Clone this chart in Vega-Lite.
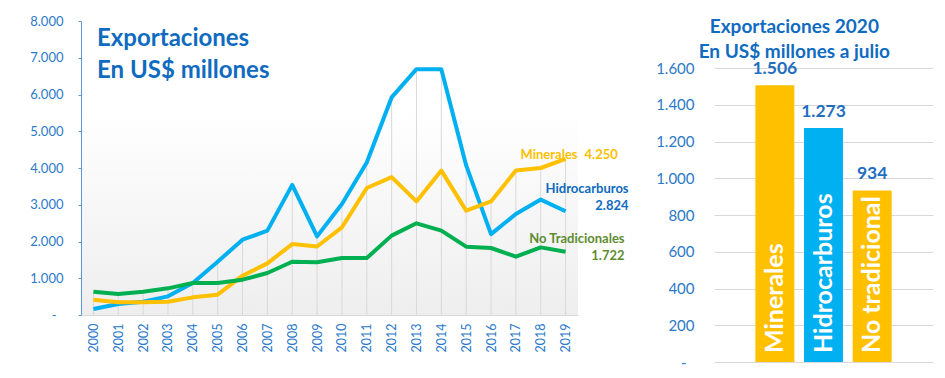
{
  "$schema": "https://vega.github.io/schema/vega-lite/v6.json",
  "padding": {"left": 29, "top": 15, "right": 5, "bottom": 5},
  "background": "white",
  "config": {
    "locale": {"number": {"decimal": ",", "thousands": ".", "grouping": [3], "currency": ["$", ""]}},
    "font": "Lato",
    "view": {"stroke": null}
  },
  "datasets": {
    "series": [
      {"year": 2000, "series": "Hidrocarburos", "value": 165},
      {"year": 2001, "series": "Hidrocarburos", "value": 300},
      {"year": 2002, "series": "Hidrocarburos", "value": 362},
      {"year": 2003, "series": "Hidrocarburos", "value": 508},
      {"year": 2004, "series": "Hidrocarburos", "value": 870},
      {"year": 2005, "series": "Hidrocarburos", "value": 1450},
      {"year": 2006, "series": "Hidrocarburos", "value": 2050},
      {"year": 2007, "series": "Hidrocarburos", "value": 2295},
      {"year": 2008, "series": "Hidrocarburos", "value": 3540},
      {"year": 2009, "series": "Hidrocarburos", "value": 2140},
      {"year": 2010, "series": "Hidrocarburos", "value": 3020},
      {"year": 2011, "series": "Hidrocarburos", "value": 4150},
      {"year": 2012, "series": "Hidrocarburos", "value": 5920},
      {"year": 2013, "series": "Hidrocarburos", "value": 6690},
      {"year": 2014, "series": "Hidrocarburos", "value": 6690},
      {"year": 2015, "series": "Hidrocarburos", "value": 4070},
      {"year": 2016, "series": "Hidrocarburos", "value": 2200},
      {"year": 2017, "series": "Hidrocarburos", "value": 2750},
      {"year": 2018, "series": "Hidrocarburos", "value": 3140},
      {"year": 2019, "series": "Hidrocarburos", "value": 2824},
      {"year": 2000, "series": "Minerales", "value": 417},
      {"year": 2001, "series": "Minerales", "value": 345},
      {"year": 2002, "series": "Minerales", "value": 345},
      {"year": 2003, "series": "Minerales", "value": 362},
      {"year": 2004, "series": "Minerales", "value": 480},
      {"year": 2005, "series": "Minerales", "value": 553},
      {"year": 2006, "series": "Minerales", "value": 1070},
      {"year": 2007, "series": "Minerales", "value": 1405},
      {"year": 2008, "series": "Minerales", "value": 1930},
      {"year": 2009, "series": "Minerales", "value": 1865},
      {"year": 2010, "series": "Minerales", "value": 2385},
      {"year": 2011, "series": "Minerales", "value": 3455},
      {"year": 2012, "series": "Minerales", "value": 3750},
      {"year": 2013, "series": "Minerales", "value": 3090},
      {"year": 2014, "series": "Minerales", "value": 3930},
      {"year": 2015, "series": "Minerales", "value": 2840},
      {"year": 2016, "series": "Minerales", "value": 3090},
      {"year": 2017, "series": "Minerales", "value": 3930},
      {"year": 2018, "series": "Minerales", "value": 4000},
      {"year": 2019, "series": "Minerales", "value": 4250},
      {"year": 2000, "series": "No Tradicionales", "value": 635},
      {"year": 2001, "series": "No Tradicionales", "value": 571},
      {"year": 2002, "series": "No Tradicionales", "value": 635},
      {"year": 2003, "series": "No Tradicionales", "value": 725},
      {"year": 2004, "series": "No Tradicionales", "value": 870},
      {"year": 2005, "series": "No Tradicionales", "value": 870},
      {"year": 2006, "series": "No Tradicionales", "value": 961},
      {"year": 2007, "series": "No Tradicionales", "value": 1143},
      {"year": 2008, "series": "No Tradicionales", "value": 1450},
      {"year": 2009, "series": "No Tradicionales", "value": 1434},
      {"year": 2010, "series": "No Tradicionales", "value": 1550},
      {"year": 2011, "series": "No Tradicionales", "value": 1550},
      {"year": 2012, "series": "No Tradicionales", "value": 2160},
      {"year": 2013, "series": "No Tradicionales", "value": 2495},
      {"year": 2014, "series": "No Tradicionales", "value": 2295},
      {"year": 2015, "series": "No Tradicionales", "value": 1860},
      {"year": 2016, "series": "No Tradicionales", "value": 1823},
      {"year": 2017, "series": "No Tradicionales", "value": 1587},
      {"year": 2018, "series": "No Tradicionales", "value": 1840},
      {"year": 2019, "series": "No Tradicionales", "value": 1722}
    ],
    "bars": [
      {"cat": "Minerales", "value": 1506},
      {"cat": "Hidrocarburos", "value": 1273},
      {"cat": "No tradicional", "value": 934}
    ]
  },
  "spacing": 26,
  "hconcat": [
    {
      "width": 497,
      "height": 294,
      "view": {
        "stroke": null,
        "fill": {"gradient": "linear", "x1": 0, "y1": 0, "x2": 0, "y2": 1,
          "stops": [{"offset": 0, "color": "#ffffff"}, {"offset": 0.3, "color": "#ffffff"}, {"offset": 1, "color": "#eeeeee"}]}
      },
      "title": {
        "text": ["Exportaciones", "En US$ millones"],
        "anchor": "start", "frame": "group", "orient": "top",
        "offset": -68, "dx": 16, "fontSize": 24, "fontWeight": "bold",
        "color": "#0F6BBF", "lineHeight": 32, "font": "Lato"
      },
      "data": {"name": "series"},
      "encoding": {
        "x": {
          "field": "year", "type": "ordinal",
          "scale": {"type": "point", "padding": 0.5},
          "axis": {
            "title": null, "labelAngle": -90, "labelFontSize": 12.5, "labelColor": "#2B79C9",
            "ticks": false, "domainColor": "#d9d9d9", "labelPadding": 8, "grid": false
          }
        },
        "y": {
          "field": "value", "type": "quantitative",
          "scale": {"domain": [0, 8000], "nice": false},
          "axis": {
            "title": null, "values": [0, 1000, 2000, 3000, 4000, 5000, 6000, 7000, 8000],
            "format": ",.0f", "labelExpr": "datum.value == 0 ? '-' : datum.label",
            "labelOverlap": false,
            "labelPadding": {"condition": {"test": "datum.value == 0", "value": 22}, "value": 15},
            "grid": false, "domainColor": "#5B9BD5", "tickColor": "#5B9BD5", "tickSize": 3,
            "labelColor": "#2B79C9", "labelFontSize": 13
          }
        }
      },
      "layer": [
        {
          "transform": [{"aggregate": [{"op": "max", "field": "value", "as": "top"}], "groupby": ["year"]}],
          "mark": {"type": "rule", "color": "#d9d9d9", "strokeWidth": 1},
          "encoding": {
            "y": {"field": "top", "type": "quantitative"},
            "y2": {"datum": 0}
          }
        },
        {
          "mark": {"type": "line", "strokeWidth": 4, "strokeJoin": "round"},
          "encoding": {
            "color": {
              "field": "series", "type": "nominal",
              "scale": {"domain": ["Minerales", "Hidrocarburos", "No Tradicionales"], "range": ["#FFC000", "#00B0F0", "#00B050"]},
              "legend": null
            }
          }
        },
        {
          "transform": [{"filter": "datum.year == 2019 && datum.series == 'Minerales'"}],
          "mark": {"type": "text", "align": "right", "baseline": "middle", "dx": 12, "dy": -4, "fontSize": 13, "fontWeight": "bold", "color": "#FFC000"},
          "encoding": {"text": {"field": "series"}}
        },
        {
          "transform": [{"filter": "datum.year == 2019 && datum.series == 'Minerales'"}],
          "mark": {"type": "text", "align": "left", "baseline": "middle", "dx": 19, "dy": -4, "fontSize": 13, "fontWeight": "bold", "color": "#FFC000"},
          "encoding": {"text": {"field": "value", "type": "quantitative", "format": ",.0f"}}
        },
        {
          "transform": [{"filter": "datum.year == 2019 && datum.series == 'Hidrocarburos'"}],
          "mark": {"type": "text", "align": "right", "baseline": "middle", "dx": 63, "dy": -22, "fontSize": 13, "fontWeight": "bold", "color": "#0F6BBF"},
          "encoding": {"text": {"field": "series"}}
        },
        {
          "transform": [{"filter": "datum.year == 2019 && datum.series == 'Hidrocarburos'"}],
          "mark": {"type": "text", "align": "right", "baseline": "middle", "dx": 63, "dy": -5, "fontSize": 13, "fontWeight": "bold", "color": "#0F6BBF"},
          "encoding": {"text": {"field": "value", "type": "quantitative", "format": ",.0f"}}
        },
        {
          "transform": [{"filter": "datum.year == 2019 && datum.series == 'No Tradicionales'"}],
          "mark": {"type": "text", "align": "right", "baseline": "middle", "dx": 59, "dy": -13, "fontSize": 13, "fontWeight": "bold", "color": "#5E8C31"},
          "encoding": {"text": {"field": "series"}}
        },
        {
          "transform": [{"filter": "datum.year == 2019 && datum.series == 'No Tradicionales'"}],
          "mark": {"type": "text", "align": "right", "baseline": "middle", "dx": 59, "dy": 4, "fontSize": 13, "fontWeight": "bold", "color": "#5E8C31"},
          "encoding": {"text": {"field": "value", "type": "quantitative", "format": ",.0f"}}
        }
      ]
    },
    {
      "width": 219,
      "height": 341,
      "data": {"name": "bars"},
      "title": {
        "text": ["Exportaciones 2020", "En US$ millones a julio"],
        "anchor": "middle", "frame": "bounds", "orient": "top",
        "fontSize": 19, "fontWeight": "bold", "color": "#0F6BBF", "lineHeight": 25, "offset": -41, "font": "Lato"
      },
      "encoding": {
        "x": {
          "field": "cat", "type": "nominal", "sort": null, "axis": null,
          "scale": {"paddingInner": 0.2, "paddingOuter": 0.85}
        },
        "y": {
          "field": "value", "type": "quantitative",
          "scale": {"domain": [0, 1856], "nice": false},
          "axis": {
            "title": null, "values": [0, 200, 400, 600, 800, 1000, 1200, 1400, 1600],
            "format": ",.0f", "labelExpr": "datum.value == 0 ? '-' : datum.label",
            "labelOverlap": false,
            "labelPadding": {"condition": {"test": "datum.value == 0", "value": 28}, "value": 20},
            "domain": false, "ticks": false, "grid": true, "gridColor": "#d9d9d9",
            "labelFontSize": 15, "labelColor": "#2B79C9"
          }
        }
      },
      "layer": [
        {
          "mark": {"type": "bar"},
          "encoding": {
            "color": {
              "field": "cat", "type": "nominal",
              "scale": {"domain": ["Minerales", "Hidrocarburos", "No tradicional"], "range": ["#FFC000", "#00B0F0", "#00B050"]},
              "legend": null
            }
          }
        },
        {
          "mark": {"type": "text", "baseline": "middle", "dy": -16, "fontSize": 17.5, "fontWeight": "bold", "color": "#1F6EC0"},
          "encoding": {"text": {"field": "value", "type": "quantitative", "format": ",.0f"}}
        },
        {
          "mark": {"type": "text", "angle": -90, "align": "left", "baseline": "middle", "dx": 9, "fontSize": 25, "fontWeight": "bold", "color": "#ffffff"},
          "encoding": {"y": {"datum": 0}, "text": {"field": "cat"}}
        }
      ]
    }
  ]
}
